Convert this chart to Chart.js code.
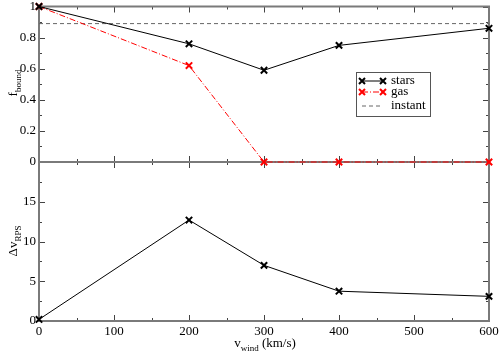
<!DOCTYPE html>
<html>
<head>
<meta charset="utf-8">
<script src="https://cdn.jsdelivr.net/npm/chart.js@4"></script>
<style>
  body { margin: 0; background: #fff; }
  #wrap { position: relative; width: 499px; height: 354px; }
  #wrap canvas { position: absolute; left: 0; top: 0; }
</style>
</head>
<body>
<div id="wrap">
  <canvas id="lower" width="499" height="354"></canvas>
  <canvas id="upper" width="499" height="354"></canvas>
</div>
<script>
// wind speeds (km/s)
const windSpeeds = [0, 200, 300, 400, 600];
// bound fractions
const starsBound = [1.0, 0.76, 0.59, 0.75, 0.86];
const gasBound = [1.0, 0.62, 0.0, 0.0, 0.0];
const instantBound = 0.89;
// delta v RPS
const deltaV = [0.2, 12.7, 7.0, 3.75, 3.1];

const xTickLabels = ['0', '100', '200', '300', '400', '500', '600'];
const fTickLabels = ['0', '0.2', '0.4', '0.6', '0.8', '1'];
const dvTickLabels = ['0', '5', '10', '15'];

const FONT = '"Liberation Serif", "DejaVu Serif", serif';
const pts = (ys) => windSpeeds.map((x, i) => ({ x: x, y: ys[i] }));

function frameTicks(chart, yMinor, yMax, ptLabels, showX) {
  const ctx = chart.ctx;
  const a = chart.chartArea;
  const x = chart.scales.x, y = chart.scales.y;
  ctx.save();
  ctx.strokeStyle = '#444';
  ctx.lineWidth = 1;
  ctx.beginPath();
  for (let v = 0; v <= 600; v += 50) {
    const px = Math.round(x.getPixelForValue(v)) + 0.5;
    const len = v % 100 === 0 ? 6 : 3;
    ctx.moveTo(px, a.top); ctx.lineTo(px, a.top + len);
    ctx.moveTo(px, a.bottom); ctx.lineTo(px, a.bottom - len);
  }
  for (let i = 0; i * yMinor <= yMax + 1e-9; i++) {
    const py = Math.round(y.getPixelForValue(i * yMinor)) + 0.5;
    const len = i % 2 === 0 ? 6 : 3;
    ctx.moveTo(a.left, py); ctx.lineTo(a.left + len, py);
    ctx.moveTo(a.right, py); ctx.lineTo(a.right - len, py);
  }
  ctx.stroke();
  ctx.strokeStyle = '#7a7a7a';
  ctx.lineWidth = 2;
  ctx.strokeRect(a.left, a.top, a.right - a.left, a.bottom - a.top);

  ctx.fillStyle = '#000';
  ctx.font = '13px ' + FONT;
  ctx.textAlign = 'right';
  ctx.textBaseline = 'middle';
  ptLabels.forEach(function (t) {
    ctx.fillText(t, a.left - 3, y.getPixelForValue(parseFloat(t)));
  });
  if (showX) {
    ctx.textAlign = 'center';
    ctx.textBaseline = 'top';
    xTickLabels.forEach(function (t) {
      ctx.fillText(t, x.getPixelForValue(parseFloat(t)), a.bottom + 4);
    });
  }
  ctx.restore();
}

// axis title with a subscript, e.g. f_bound; optional suffix after it
function subLabel(ctx, main, sub, suffix, cx, cy, rotate) {
  ctx.save();
  ctx.translate(cx, cy);
  if (rotate) ctx.rotate(-Math.PI / 2);
  ctx.fillStyle = '#000';
  ctx.textBaseline = 'alphabetic';
  ctx.textAlign = 'left';
  ctx.font = '13px ' + FONT;
  const w1 = ctx.measureText(main).width;
  const w3 = suffix ? ctx.measureText(suffix).width : 0;
  ctx.font = '9px ' + FONT;
  const w2 = ctx.measureText(sub).width;
  const left = -(w1 + w2 + w3) / 2;
  ctx.font = '13px ' + FONT;
  ctx.fillText(main, left, 4);
  if (suffix) ctx.fillText(suffix, left + w1 + w2, 4);
  ctx.font = '9px ' + FONT;
  ctx.fillText(sub, left + w1, 8);
  ctx.restore();
}

const upperDecor = {
  id: 'upperDecor',
  beforeDatasetsDraw(chart) {
    frameTicks(chart, 0.1, 1.0, fTickLabels, false);
  },
  afterDraw(chart) {
    const ctx = chart.ctx;
    subLabel(ctx, 'f', 'bound', '', 13, 83, true);
    // legend box
    ctx.save();
    ctx.fillStyle = '#fff';
    ctx.fillRect(356, 72, 74, 44);
    ctx.strokeStyle = '#555';
    ctx.lineWidth = 1;
    ctx.strokeRect(356.5, 72.5, 74, 44);
    const rows = [
      { ds: chart.data.datasets[0], y: 81, label: 'stars' },
      { ds: chart.data.datasets[1], y: 92, label: 'gas' },
      { ds: chart.data.datasets[2], y: 106, label: 'instant' }
    ];
    rows.forEach(function (r) {
      ctx.strokeStyle = r.ds.borderColor;
      ctx.lineWidth = 1;
      ctx.setLineDash(r.ds.borderDash || []);
      ctx.beginPath();
      ctx.moveTo(362, r.y); ctx.lineTo(383, r.y);
      ctx.stroke();
      ctx.setLineDash([]);
      if (r.ds.pointRadius) {
        ctx.lineWidth = 2;
        [362, 383].forEach(function (px) {
          ctx.beginPath();
          ctx.moveTo(px - 3, r.y - 3); ctx.lineTo(px + 3, r.y + 3);
          ctx.moveTo(px - 3, r.y + 3); ctx.lineTo(px + 3, r.y - 3);
          ctx.stroke();
        });
      }
      ctx.fillStyle = '#000';
      ctx.font = '13px ' + FONT;
      ctx.textAlign = 'left';
      ctx.textBaseline = 'middle';
      ctx.fillText(r.label, 391, r.y);
    });
    ctx.restore();
  }
};

const lowerDecor = {
  id: 'lowerDecor',
  beforeDatasetsDraw(chart) {
    frameTicks(chart, 2.5, 20, dvTickLabels, true);
  },
  afterDraw(chart) {
    const ctx = chart.ctx;
    subLabel(ctx, '\u0394v', 'RPS', '', 13, 241, true);
    subLabel(ctx, 'v', 'wind', ' (km/s)', 265, 343, false);
  }
};

const xScale = { type: 'linear', min: 0, max: 600, display: false };

new Chart(document.getElementById('upper'), {
  type: 'line',
  data: {
    datasets: [
      {
        label: 'stars', data: pts(starsBound),
        borderColor: '#000', borderWidth: 1,
        pointStyle: 'crossRot', pointRadius: 4.5, pointBorderWidth: 2,
        pointBorderColor: '#000', clip: false
      },
      {
        label: 'gas', data: pts(gasBound),
        borderColor: '#ff0000', borderWidth: 1, borderDash: [6, 2, 1, 2],
        pointStyle: 'crossRot', pointRadius: 4.5, pointBorderWidth: 2,
        pointBorderColor: '#ff0000', clip: false
      },
      {
        label: 'instant', data: [{ x: 0, y: instantBound }, { x: 600, y: instantBound }],
        borderColor: '#666', borderWidth: 1, borderDash: [4, 3],
        pointRadius: 0, clip: false
      }
    ]
  },
  options: {
    responsive: false,
    animation: false,
    layout: { padding: { left: 39, right: 10, top: 4, bottom: 192 } },
    scales: { x: xScale, y: { min: 0, max: 1, display: false } },
    plugins: { legend: { display: false }, tooltip: { enabled: false } }
  },
  plugins: [upperDecor]
});

new Chart(document.getElementById('lower'), {
  type: 'line',
  data: {
    datasets: [
      {
        label: 'dv', data: pts(deltaV),
        borderColor: '#000', borderWidth: 1,
        pointStyle: 'crossRot', pointRadius: 4.5, pointBorderWidth: 2,
        pointBorderColor: '#000', clip: false
      }
    ]
  },
  options: {
    responsive: false,
    animation: false,
    layout: { padding: { left: 39, right: 10, top: 162, bottom: 33 } },
    scales: { x: xScale, y: { min: 0, max: 20, display: false } },
    plugins: { legend: { display: false }, tooltip: { enabled: false } }
  },
  plugins: [lowerDecor]
});
</script>
</body>
</html>
